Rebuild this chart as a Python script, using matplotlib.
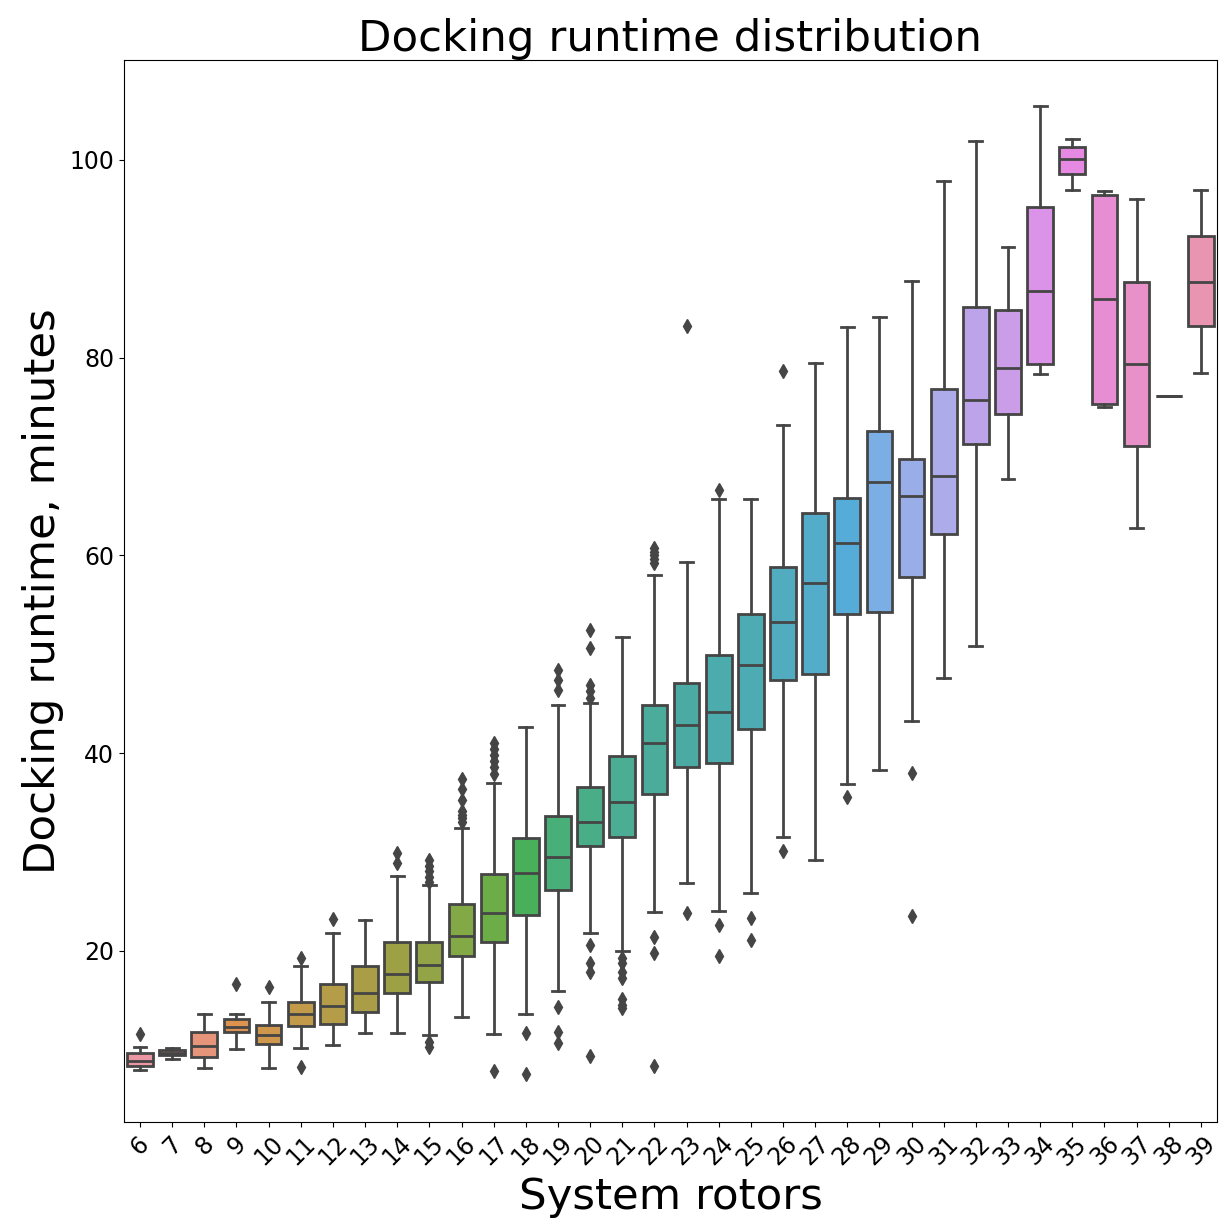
import colorsys
import numpy as np
import matplotlib
matplotlib.use("Agg")
import matplotlib.pyplot as plt
import seaborn as sns

# rotor counts on the x axis
rotors = list(range(6, 40))

# per-rotor box statistics (minutes)
whislo = [7.93, 9.04, 8.13, 10.06, 8.13, 10.16, 10.53, 11.74, 11.67, 11.47,
          13.36, 11.6, 13.63, 15.95, 21.79, 20.0, 23.97, 26.85, 24.08, 25.83,
          31.56, 29.16, 36.92, 38.35, 43.21, 47.6, 50.82, 67.77, 78.33, 96.93,
          75.0, 62.76, 76.09, 78.47]
q1 = [8.34, 9.48, 9.25, 11.8, 10.56, 12.45, 12.58, 13.8, 15.72, 16.86,
      19.53, 20.94, 23.64, 26.13, 30.62, 31.56, 35.85, 38.58, 39.01, 42.49,
      47.38, 48.0, 54.08, 54.3, 57.82, 62.2, 71.3, 74.28, 79.34, 98.6,
      75.36, 71.1, 76.09, 83.17]
med = [8.87, 9.72, 10.39, 12.3, 11.5, 13.63, 14.47, 15.78, 17.7, 18.62,
       21.48, 23.8, 27.9, 29.54, 33.08, 35.04, 41.04, 42.82, 44.17, 48.96,
       53.27, 57.26, 61.26, 67.48, 66.06, 68.05, 75.73, 78.93, 86.74, 100.11,
       85.98, 79.41, 76.09, 87.68]
q3 = [9.68, 9.96, 11.8, 13.12, 12.48, 14.87, 16.66, 18.48, 20.88, 20.94,
      24.75, 27.8, 31.4, 33.65, 36.62, 39.68, 44.88, 47.14, 49.97, 54.08,
      58.87, 64.25, 65.77, 72.58, 69.77, 76.85, 85.16, 84.85, 95.2, 101.3,
      96.42, 87.68, 76.09, 92.3]
whishi = [10.26, 10.16, 13.6, 13.66, 14.8, 18.48, 21.8, 23.1, 27.62, 26.67,
          32.47, 36.96, 42.69, 44.88, 45.05, 51.73, 58.0, 59.38, 65.7, 65.7,
          73.18, 79.43, 83.14, 84.08, 87.76, 97.9, 101.9, 91.15, 105.42, 102.17,
          96.9, 96.07, 76.09, 96.97]
fliers = [
    [11.6], [], [], [16.7], [16.4], [19.26, 8.3], [23.2], [],
    [29.88, 28.87],
    [29.2, 28.6, 28.1, 27.5, 27.0, 10.8, 10.3],
    [37.4, 36.4, 35.3, 34.2, 33.8, 33.4, 33.0],
    [41.0, 40.4, 39.8, 39.2, 38.6, 37.9, 7.9],
    [11.67, 7.53],
    [48.4, 47.4, 46.4, 14.37, 11.84, 10.66],
    [52.5, 50.6, 46.9, 46.3, 45.6, 20.6, 18.75, 17.9, 9.38],
    [19.26, 18.75, 17.9, 17.24, 15.1, 14.5, 14.2],
    [60.8, 60.4, 60.0, 59.6, 59.2, 21.4, 19.83, 8.4],
    [83.2, 23.81],
    [66.6, 22.6, 19.5],
    [23.3, 21.1],
    [78.7, 30.14],
    [],
    [35.6],
    [],
    [37.97, 23.5],
    [], [], [], [], [], [], [], [], [],
]

stats = []
for i, r in enumerate(rotors):
    stats.append(dict(label=str(r), whislo=whislo[i], q1=q1[i], med=med[i],
                      q3=q3[i], whishi=whishi[i], fliers=fliers[i]))

# husl palette, desaturated like seaborn's boxplot
colors = [sns.desaturate(c, 0.75) for c in sns.husl_palette(len(rotors), l=.7)]
lum = min(colorsys.rgb_to_hls(*c)[1] for c in colors) * .6
gray = matplotlib.colors.rgb2hex((lum, lum, lum))

fig = plt.figure(figsize=(12.19, 12.24), dpi=100)
ax = fig.add_axes([0.1017, 0.0833, 0.8966, 0.8676])

lw = 2.0
bp = ax.bxp(stats, positions=np.arange(len(rotors)), widths=0.8,
            patch_artist=True, showfliers=True,
            boxprops=dict(edgecolor=gray, linewidth=lw),
            medianprops=dict(color=gray, linewidth=lw),
            whiskerprops=dict(color=gray, linewidth=lw),
            capprops=dict(color=gray, linewidth=lw),
            flierprops=dict(marker='d', markerfacecolor=gray, markeredgecolor=gray,
                            markersize=7, linestyle='none'))
for patch, c in zip(bp['boxes'], colors):
    patch.set_facecolor(c)

ax.set_xlim(-0.5, len(rotors) - 0.5)
ax.set_ylim(2.7, 110.1)
ax.set_yticks([20, 40, 60, 80, 100])
ax.set_xticks(np.arange(len(rotors)))
ax.set_xticklabels([str(r) for r in rotors], rotation=45)
ax.tick_params(axis='both', labelsize=17)

ax.set_title('Docking runtime distribution', fontsize=31.3)
ax.set_xlabel('System rotors', fontsize=31.3)
ax.set_ylabel('Docking runtime, minutes', fontsize=31.3)

fig.savefig('out.png', dpi=100)
